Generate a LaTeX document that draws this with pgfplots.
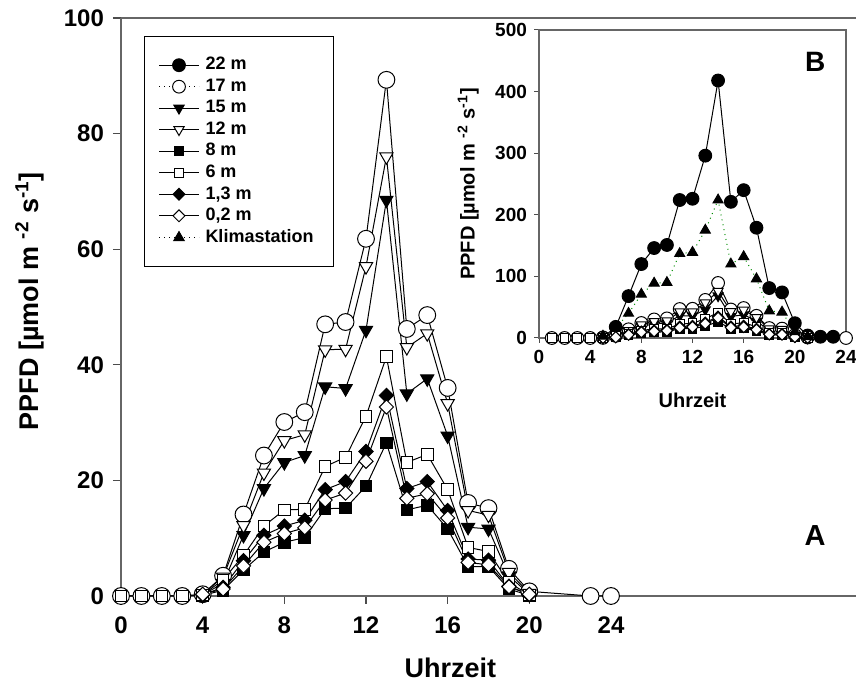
\documentclass[border=0pt]{standalone}
\usepackage{fontspec}
\setmainfont{Liberation Sans}
\usepackage{pgfplots}
\usepackage{pgfplotstable}
\pgfplotsset{compat=1.18}

\pgfplotstableread{
x s17 s15 s12 s8 s6 s13 s02
0 0 nan nan nan 0 nan nan
1 0 nan nan nan 0 nan nan
2 0 nan nan nan 0 nan nan
3 0 nan nan nan 0 nan nan
4 0.3 0.2 0.3 0.1 0.2 0.2 0.3
5 3.5 2.2 3.3 1.0 2.8 1.5 1.2
6 14.1 10.5 12.2 4.5 7.0 6.1 5.2
7 24.3 18.6 21.3 7.6 12.1 10.5 9.3
8 30.1 23.1 26.9 9.3 14.9 12.1 10.8
9 31.8 24.3 27.9 10.1 15.0 13.1 11.8
10 47.0 36.2 42.6 15.1 22.4 18.4 16.6
11 47.4 35.9 42.7 15.2 24.0 19.8 17.8
12 61.8 46.0 57.0 19.0 31.1 25.0 23.3
13 89.3 68.5 76.0 26.5 41.4 34.7 32.7
14 46.2 35.0 43.0 14.9 23.1 18.6 16.9
15 48.6 37.6 45.4 15.7 24.5 19.8 17.7
16 36.0 27.7 33.3 11.6 18.4 14.8 13.5
17 16.1 11.9 14.8 5.1 8.4 6.4 5.8
18 15.2 11.6 14.0 5.1 7.7 6.2 5.4
19 4.7 3.5 4.1 1.2 2.3 1.7 1.6
20 0.8 0.3 0.5 0.1 0.2 0.2 0.3
23 0 nan nan nan nan nan nan
24 0 nan nan nan nan nan nan
}\maindata

\pgfplotstableread{
x s22 klima
5 1 3
6 18 16
7 68 40
8 120 71
9 146 89
10 151 90
11 224 137
12 226 139
13 296 175
14 418 224
15 221 120
16 240 132
17 179 96
18 81 44
19 74 42
20 24 10
21 4 2
22 2 nan
23 2 nan
}\insetdata

\pgfplotsset{
  ser/.style={black, line width=0.5pt, solid},
  s22/.style={ser, mark=*, mark size=#1, mark options={solid, fill=black}},
  s17/.style={ser, mark=*, mark size=#1, mark options={solid, fill=white}},
  s15/.style={ser, mark=triangle*, mark size=#1, mark options={solid, fill=black, rotate=180}},
  s12/.style={ser, mark=triangle*, mark size=#1, mark options={solid, fill=white, rotate=180}},
  s8/.style={ser, mark=square*, mark size=#1, mark options={solid, fill=black}},
  s6/.style={ser, mark=square*, mark size=#1, mark options={solid, fill=white}},
  s13/.style={ser, mark=square*, mark size=#1, mark options={solid, fill=black, rotate=45}},
  s02/.style={ser, mark=square*, mark size=#1, mark options={solid, fill=white, rotate=45}},
  skl/.style={ser, mark=triangle*, mark size=#1, mark options={solid, fill=black}},
}

\begin{document}
\begin{tikzpicture}
\begin{axis}[
  scale only axis, width=367.5pt, height=289pt,
  xmin=0, xmax=36, ymin=0, ymax=100,
  axis x line*=bottom, axis y line*=left,
  axis line style={black!60, line width=0.9pt},
  xtick={0,4,...,24}, ytick={0,20,...,100},
  tick align=outside, major tick length=4pt,
  tick style={black!70, line width=0.6pt},
  /pgf/number format/assume math mode=true,
  tick label style={font=\bfseries\fontsize{12}{14}\selectfont},
  xticklabel style={yshift=-3pt},
  yticklabel style={xshift=-1pt},
  clip=false,
  xlabel={Uhrzeit},
  ylabel={PPFD [µmol m \textsuperscript{-2} s\textsuperscript{-1}]},
  label style={font=\bfseries\fontsize{13.5}{15}\selectfont},
  xlabel style={at={(axis description cs:0.448,-0.1246)}, anchor=center},
  ylabel style={at={(axis description cs:-0.124,0.51)}, anchor=center},
  legend cell align=left,
  legend style={at={(axis description cs:0.0313,0.969)}, anchor=north west,
    draw=black, line width=0.5pt, font=\bfseries\fontsize{9}{10}\selectfont,
    row sep=0pt, inner xsep=7pt, inner ysep=9pt,
    nodes={inner ysep=1.5pt, inner xsep=3pt}},
  legend image code/.code={\draw[mark repeat=2,mark phase=2] plot coordinates {(0pt,0pt) (10pt,0pt) (20pt,0pt)};},
]
\addlegendimage{s22=3.2pt}\addlegendentry{22 m}
\addlegendimage{s17=3.2pt, dotted}\addlegendentry{17 m}
\addlegendimage{s15=3pt}\addlegendentry{15 m}
\addlegendimage{s12=3pt}\addlegendentry{12 m}
\addlegendimage{s8=2.3pt}\addlegendentry{8 m}
\addlegendimage{s6=2.3pt}\addlegendentry{6 m}
\addlegendimage{s13=2.1pt}\addlegendentry{1,3 m}
\addlegendimage{s02=2.1pt}\addlegendentry{0,2 m}
\addlegendimage{skl=3pt, dotted}\addlegendentry{Klimastation}

\addplot[s17=4.2pt, forget plot] table[x=x, y=s17] {\maindata};
\addplot[s15=3.8pt, forget plot] table[x=x, y=s15] {\maindata};
\addplot[s12=3.8pt, forget plot] table[x=x, y=s12] {\maindata};
\addplot[s8=2.9pt, forget plot] table[x=x, y=s8] {\maindata};
\addplot[s6=2.9pt, forget plot] table[x=x, y=s6] {\maindata};
\addplot[s13=2.5pt, forget plot] table[x=x, y=s13] {\maindata};
\addplot[s02=2.5pt, forget plot] table[x=x, y=s02] {\maindata};
\draw[black!60, line width=0.9pt] (rel axis cs:0,1) -- (rel axis cs:1,1);
\node[font=\bfseries\fontsize{14.5}{16}\selectfont] at (axis cs:34,10.5) {A};
\end{axis}

\begin{axis}[
  at={(209pt,129pt)}, anchor=south west,
  scale only axis, width=153.5pt, height=154pt,
  xmin=0, xmax=24, ymin=0, ymax=500,
  axis line style={black!60, line width=0.8pt},
  xtick={0,4,...,24}, ytick={0,100,...,500},
  xtick pos=bottom, ytick pos=left,
  tick align=outside, major tick length=2.5pt,
  tick style={black!70, line width=0.5pt},
  /pgf/number format/assume math mode=true,
  tick label style={font=\bfseries\fontsize{9.5}{11}\selectfont},
  clip=false,
  xlabel={Uhrzeit},
  ylabel={PPFD [µmol m \textsuperscript{-2} s\textsuperscript{-1}]},
  label style={font=\bfseries\fontsize{10}{12}\selectfont},
  xlabel style={at={(axis description cs:0.5,-0.201)}, anchor=center},
  ylabel style={at={(axis description cs:-0.231,0.5)}, anchor=center},
]
\addplot[s22=3.2pt] table[x=x, y=s22] {\insetdata};
\addplot[s17=3.2pt, restrict x to domain=0:24] table[x expr=\thisrow{x}+1, y=s17] {\maindata};
\addplot[s15=2.9pt] table[x expr=\thisrow{x}+1, y=s15] {\maindata};
\addplot[s12=2.9pt] table[x expr=\thisrow{x}+1, y=s12] {\maindata};
\addplot[s8=2.2pt] table[x expr=\thisrow{x}+1, y=s8] {\maindata};
\addplot[s6=2.2pt] table[x expr=\thisrow{x}+1, y=s6] {\maindata};
\addplot[s13=1.95pt] table[x expr=\thisrow{x}+1, y=s13] {\maindata};
\addplot[s02=1.95pt] table[x expr=\thisrow{x}+1, y=s02] {\maindata};
\addplot[skl=2.9pt, green!55!black, dotted, mark options={solid, fill=black, draw=black}] table[x=x, y=klima] {\insetdata};
\node[font=\bfseries\fontsize{14}{16}\selectfont] at (rel axis cs:0.9,0.896) {B};
\end{axis}
\pgfresetboundingbox
\path (-60.5pt,-46pt) rectangle (367.5pt,298pt);
\end{tikzpicture}
\end{document}
